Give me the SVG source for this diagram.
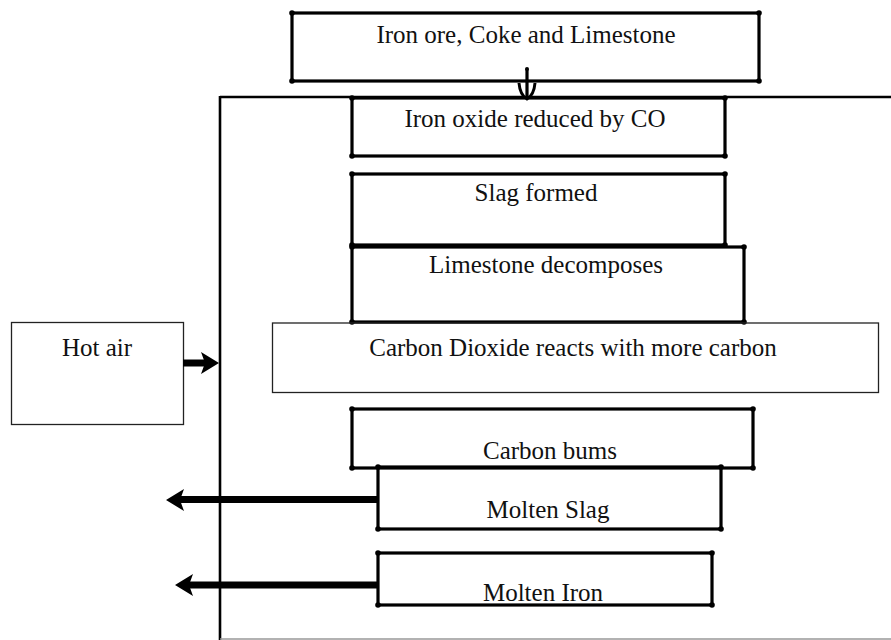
<svg xmlns="http://www.w3.org/2000/svg" width="891" height="640" viewBox="0 0 891 640">
<style>
.box{fill:none;stroke:#000;stroke-width:3.2;stroke-linecap:round}
.thin{fill:none;stroke:#222;stroke-width:1.3}
.dot{fill:#000}
.lbl{font-family:"Liberation Serif","Times New Roman",serif;font-size:25px;fill:#111;text-anchor:middle}
.wall{stroke:#000;stroke-width:2.6;fill:none}
.shaft{stroke:#000;stroke-width:7;fill:none}
.head{fill:#000}
</style>
<rect width="891" height="640" fill="#fff"/>
<g id="furnace">
<line class="wall" x1="220" y1="97" x2="891" y2="97"/>
<line class="wall" x1="220" y1="96" x2="220" y2="640"/>
<line x1="220" y1="639" x2="891" y2="639" stroke="#999" stroke-width="1.5"/>
</g>
<g id="node-inputs">
<rect class="box" x="292" y="13" width="467" height="68"/>
<circle class="dot" cx="292" cy="13" r="2.8"/><circle class="dot" cx="759" cy="13" r="2.8"/><circle class="dot" cx="292" cy="81" r="2.8"/><circle class="dot" cx="759" cy="81" r="2.8"/>
<text class="lbl" x="526" y="43">Iron ore, Coke and Limestone</text>
</g>
<g id="node-iron-oxide">
<rect class="box" x="352" y="98" width="373" height="58"/>
<circle class="dot" cx="352" cy="98" r="2.8"/><circle class="dot" cx="725" cy="98" r="2.8"/><circle class="dot" cx="352" cy="156" r="2.8"/><circle class="dot" cx="725" cy="156" r="2.8"/>
<text class="lbl" x="535" y="127">Iron oxide reduced by CO</text>
</g>
<g id="node-slag-formed">
<rect class="box" x="352" y="174" width="373" height="71"/>
<circle class="dot" cx="352" cy="174" r="2.8"/><circle class="dot" cx="725" cy="174" r="2.8"/><circle class="dot" cx="352" cy="245" r="2.8"/><circle class="dot" cx="725" cy="245" r="2.8"/>
<text class="lbl" x="536" y="201">Slag formed</text>
</g>
<g id="node-limestone">
<rect class="box" x="352" y="247" width="392" height="75"/>
<circle class="dot" cx="352" cy="247" r="2.8"/><circle class="dot" cx="744" cy="247" r="2.8"/><circle class="dot" cx="352" cy="322" r="2.8"/><circle class="dot" cx="744" cy="322" r="2.8"/>
<text class="lbl" x="546" y="273">Limestone decomposes</text>
</g>
<g id="node-co2">
<rect class="thin" x="272.5" y="323" width="606" height="69.5"/>
<text class="lbl" x="573" y="356">Carbon Dioxide reacts with more carbon</text>
</g>
<g id="node-hot-air">
<rect class="thin" x="11.5" y="322.5" width="172" height="102"/>
<text class="lbl" x="97" y="356">Hot air</text>
</g>
<g id="node-carbon-burns">
<rect class="box" x="352" y="409" width="401" height="59"/>
<circle class="dot" cx="352" cy="409" r="2.8"/><circle class="dot" cx="753" cy="409" r="2.8"/><circle class="dot" cx="352" cy="468" r="2.8"/><circle class="dot" cx="753" cy="468" r="2.8"/>
<text class="lbl" x="550" y="459">Carbon bums</text>
</g>
<g id="node-molten-slag">
<rect class="box" x="378" y="467" width="343" height="62"/>
<circle class="dot" cx="378" cy="467" r="2.8"/><circle class="dot" cx="721" cy="467" r="2.8"/><circle class="dot" cx="378" cy="529" r="2.8"/><circle class="dot" cx="721" cy="529" r="2.8"/>
<text class="lbl" x="548" y="518">Molten Slag</text>
</g>
<g id="node-molten-iron">
<rect class="box" x="378" y="553" width="334" height="52"/>
<circle class="dot" cx="378" cy="553" r="2.8"/><circle class="dot" cx="712" cy="553" r="2.8"/><circle class="dot" cx="378" cy="605" r="2.8"/><circle class="dot" cx="712" cy="605" r="2.8"/>
<text class="lbl" x="543" y="601">Molten Iron</text>
</g>
<g id="connectors">
<line x1="527" y1="69" x2="527" y2="97" stroke="#000" stroke-width="3.2"/>
<circle class="dot" cx="527" cy="69" r="2"/>
<path d="M519,83 Q520,95 527,99 Q534,95 535,83" fill="none" stroke="#000" stroke-width="3"/>
<line class="shaft" x1="183" y1="363" x2="205" y2="363"/>
<path class="head" d="M201,352 L219,363 L201,374 L205,363 Z"/>
<line class="shaft" x1="378" y1="499.5" x2="178" y2="499.5"/>
<path class="head" d="M184,489 L166,500 L184,511 L180,500 Z"/>
<line class="shaft" x1="378" y1="585" x2="188" y2="585"/>
<path class="head" d="M193,574 L175,585 L193,596 L189,585 Z"/>
</g>
</svg>
